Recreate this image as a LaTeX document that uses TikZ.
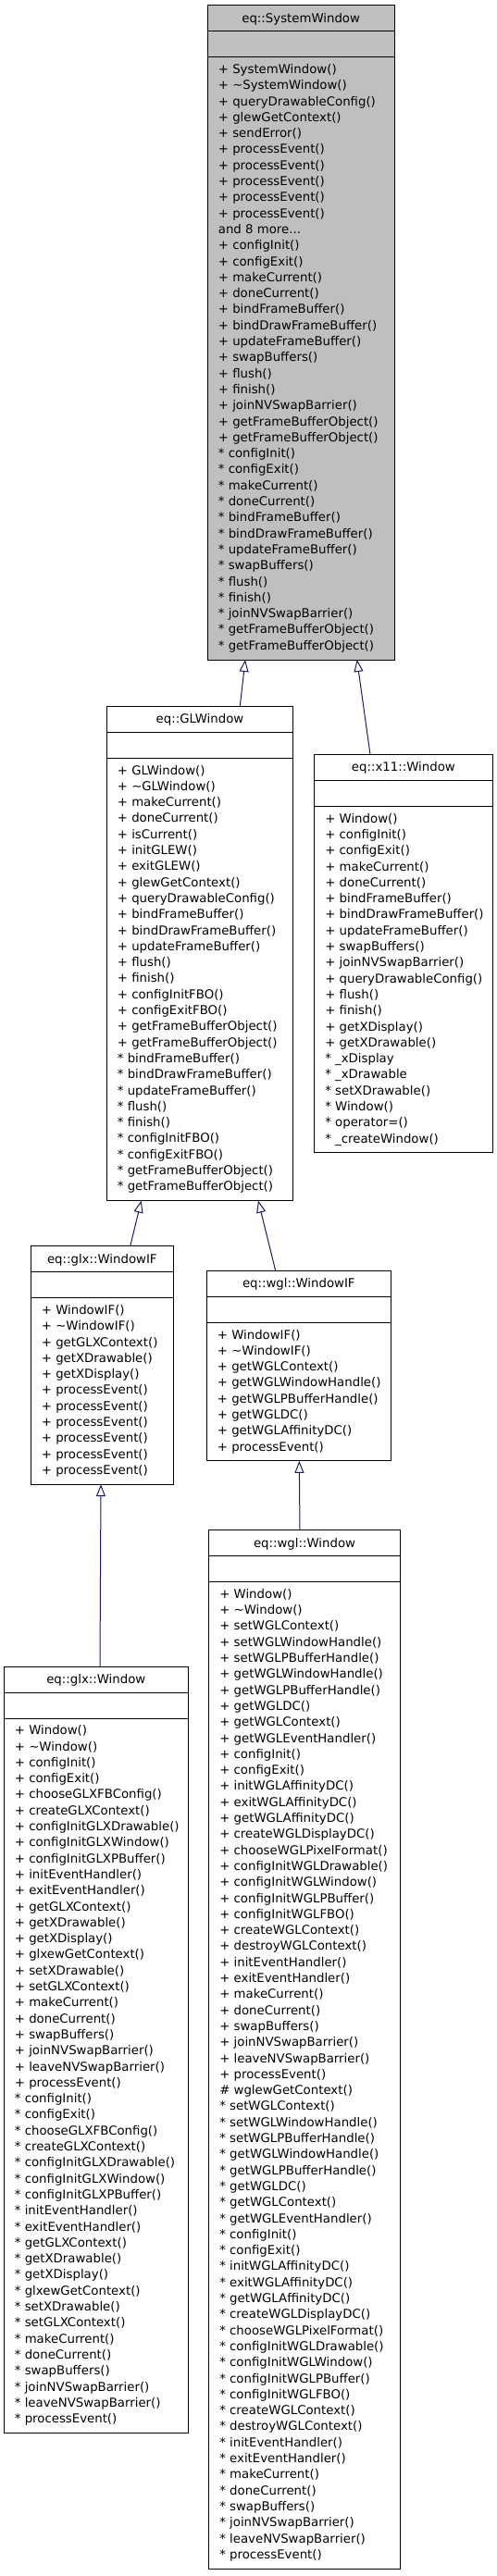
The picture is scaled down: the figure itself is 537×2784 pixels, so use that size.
\documentclass[tikz,border=0pt]{standalone}
\usepackage{fontspec}
\setmainfont{DejaVu Sans}
\usetikzlibrary{arrows.meta}
\definecolor{edgecol}{HTML}{191970}
\definecolor{greyfill}{HTML}{BFBFBF}
\newcommand\umlclass[8]{%
  \pgfmathsetmacro\boxh{67.2+#5*17.3}%
  \node[classbox, fill=#6, minimum width=#4pt, minimum height=\boxh pt, anchor=north west] (#1) at (#2,#3) {};
  \draw[sepline] ([yshift=-28pt]#1.north west) -- ([yshift=-28pt]#1.north east);
  \draw[sepline] ([yshift=-56pt]#1.north west) -- ([yshift=-56pt]#1.north east);
  \node[titletext, anchor=base] (#1-title) at ([yshift=-18.5pt]#1.north) {#7};
  \node[membertext, anchor=north west] (#1-members) at ([xshift=11.4pt,yshift=-61.4pt]#1.north west) {\strut #8};
}
\begin{document}
\begin{tikzpicture}[x=1pt,y=-1pt,
  classbox/.style={draw=black, line width=1pt, inner sep=0pt, outer sep=0pt},
  sepline/.style={draw=black, line width=1pt},
  titletext/.style={inner sep=0pt, font=\fontsize{13.3}{17.3}\selectfont},
  membertext/.style={inner sep=0pt, align=left, font=\fontsize{13.3}{17.3}\selectfont},
  inh/.style={draw=edgecol, line width=1pt, -{Triangle[open, length=13pt, width=10pt]}}]

\fill[white] (0,0) rectangle (537,2784);
\useasboundingbox (0,0) rectangle (537,2784);

\umlclass{sys}{224.3}{5.7}{201.7}{37}{greyfill}{eq::SystemWindow}{%
+ SystemWindow()\\
+ \textasciitilde SystemWindow()\\
+ queryDrawableConfig()\\
+ glewGetContext()\\
+ sendError()\\
+ processEvent()\\
+ processEvent()\\
+ processEvent()\\
+ processEvent()\\
+ processEvent()\\
and 8 more...\\
+ configInit()\\
+ configExit()\\
+ makeCurrent()\\
+ doneCurrent()\\
+ bindFrameBuffer()\\
+ bindDrawFrameBuffer()\\
+ updateFrameBuffer()\\
+ swapBuffers()\\
+ flush()\\
+ finish()\\
+ joinNVSwapBarrier()\\
+ getFrameBufferObject()\\
+ getFrameBufferObject()\\
{*} configInit()\\
{*} configExit()\\
{*} makeCurrent()\\
{*} doneCurrent()\\
{*} bindFrameBuffer()\\
{*} bindDrawFrameBuffer()\\
{*} updateFrameBuffer()\\
{*} swapBuffers()\\
{*} flush()\\
{*} finish()\\
{*} joinNVSwapBarrier()\\
{*} getFrameBufferObject()\\
{*} getFrameBufferObject()}

\umlclass{glwin}{115.3}{763.3}{201.4}{27}{white}{eq::GLWindow}{%
+ GLWindow()\\
+ \textasciitilde GLWindow()\\
+ makeCurrent()\\
+ doneCurrent()\\
+ isCurrent()\\
+ initGLEW()\\
+ exitGLEW()\\
+ glewGetContext()\\
+ queryDrawableConfig()\\
+ bindFrameBuffer()\\
+ bindDrawFrameBuffer()\\
+ updateFrameBuffer()\\
+ flush()\\
+ finish()\\
+ configInitFBO()\\
+ configExitFBO()\\
+ getFrameBufferObject()\\
+ getFrameBufferObject()\\
{*} bindFrameBuffer()\\
{*} bindDrawFrameBuffer()\\
{*} updateFrameBuffer()\\
{*} flush()\\
{*} finish()\\
{*} configInitFBO()\\
{*} configExitFBO()\\
{*} getFrameBufferObject()\\
{*} getFrameBufferObject()}

\umlclass{x11}{339.7}{815.4}{192.3}{21}{white}{eq::x11::Window}{%
+ Window()\\
+ configInit()\\
+ configExit()\\
+ makeCurrent()\\
+ doneCurrent()\\
+ bindFrameBuffer()\\
+ bindDrawFrameBuffer()\\
+ updateFrameBuffer()\\
+ swapBuffers()\\
+ joinNVSwapBarrier()\\
+ queryDrawableConfig()\\
+ flush()\\
+ finish()\\
+ getXDisplay()\\
+ getXDrawable()\\
{*} \_xDisplay\\
{*} \_xDrawable\\
{*} setXDrawable()\\
{*} Window()\\
{*} operator=()\\
{*} \_createWindow()}

\umlclass{glxif}{33.3}{1346.7}{154}{11}{white}{eq::glx::WindowIF}{%
+ WindowIF()\\
+ \textasciitilde WindowIF()\\
+ getGLXContext()\\
+ getXDrawable()\\
+ getXDisplay()\\
+ processEvent()\\
+ processEvent()\\
+ processEvent()\\
+ processEvent()\\
+ processEvent()\\
+ processEvent()}

\umlclass{wglif}{223.3}{1373.3}{199}{8}{white}{eq::wgl::WindowIF}{%
+ WindowIF()\\
+ \textasciitilde WindowIF()\\
+ getWGLContext()\\
+ getWGLWindowHandle()\\
+ getWGLPBufferHandle()\\
+ getWGLDC()\\
+ getWGLAffinityDC()\\
+ processEvent()}

\umlclass{glxwin}{4.3}{1801}{199}{44}{white}{eq::glx::Window}{%
+ Window()\\
+ \textasciitilde Window()\\
+ configInit()\\
+ configExit()\\
+ chooseGLXFBConfig()\\
+ createGLXContext()\\
+ configInitGLXDrawable()\\
+ configInitGLXWindow()\\
+ configInitGLXPBuffer()\\
+ initEventHandler()\\
+ exitEventHandler()\\
+ getGLXContext()\\
+ getXDrawable()\\
+ getXDisplay()\\
+ glxewGetContext()\\
+ setXDrawable()\\
+ setGLXContext()\\
+ makeCurrent()\\
+ doneCurrent()\\
+ swapBuffers()\\
+ joinNVSwapBarrier()\\
+ leaveNVSwapBarrier()\\
+ processEvent()\\
{*} configInit()\\
{*} configExit()\\
{*} chooseGLXFBConfig()\\
{*} createGLXContext()\\
{*} configInitGLXDrawable()\\
{*} configInitGLXWindow()\\
{*} configInitGLXPBuffer()\\
{*} initEventHandler()\\
{*} exitEventHandler()\\
{*} getGLXContext()\\
{*} getXDrawable()\\
{*} getXDisplay()\\
{*} glxewGetContext()\\
{*} setXDrawable()\\
{*} setGLXContext()\\
{*} makeCurrent()\\
{*} doneCurrent()\\
{*} swapBuffers()\\
{*} joinNVSwapBarrier()\\
{*} leaveNVSwapBarrier()\\
{*} processEvent()}

\umlclass{wglwin}{225.7}{1653.6}{206.6}{61}{white}{eq::wgl::Window}{%
+ Window()\\
+ \textasciitilde Window()\\
+ setWGLContext()\\
+ setWGLWindowHandle()\\
+ setWGLPBufferHandle()\\
+ getWGLWindowHandle()\\
+ getWGLPBufferHandle()\\
+ getWGLDC()\\
+ getWGLContext()\\
+ getWGLEventHandler()\\
+ configInit()\\
+ configExit()\\
+ initWGLAffinityDC()\\
+ exitWGLAffinityDC()\\
+ getWGLAffinityDC()\\
+ createWGLDisplayDC()\\
+ chooseWGLPixelFormat()\\
+ configInitWGLDrawable()\\
+ configInitWGLWindow()\\
+ configInitWGLPBuffer()\\
+ configInitWGLFBO()\\
+ createWGLContext()\\
+ destroyWGLContext()\\
+ initEventHandler()\\
+ exitEventHandler()\\
+ makeCurrent()\\
+ doneCurrent()\\
+ swapBuffers()\\
+ joinNVSwapBarrier()\\
+ leaveNVSwapBarrier()\\
+ processEvent()\\
\# wglewGetContext()\\
{*} setWGLContext()\\
{*} setWGLWindowHandle()\\
{*} setWGLPBufferHandle()\\
{*} getWGLWindowHandle()\\
{*} getWGLPBufferHandle()\\
{*} getWGLDC()\\
{*} getWGLContext()\\
{*} getWGLEventHandler()\\
{*} configInit()\\
{*} configExit()\\
{*} initWGLAffinityDC()\\
{*} exitWGLAffinityDC()\\
{*} getWGLAffinityDC()\\
{*} createWGLDisplayDC()\\
{*} chooseWGLPixelFormat()\\
{*} configInitWGLDrawable()\\
{*} configInitWGLWindow()\\
{*} configInitWGLPBuffer()\\
{*} configInitWGLFBO()\\
{*} createWGLContext()\\
{*} destroyWGLContext()\\
{*} initEventHandler()\\
{*} exitEventHandler()\\
{*} makeCurrent()\\
{*} doneCurrent()\\
{*} swapBuffers()\\
{*} joinNVSwapBarrier()\\
{*} leaveNVSwapBarrier()\\
{*} processEvent()}

% inheritance connectors (child -> parent)
\draw[inh] ([xshift=144pt]glwin.north west) -- ([xshift=40.7pt]sys.south west);
\draw[inh] ([xshift=60.3pt]x11.north west) -- ([xshift=161.4pt]sys.south west);
\draw[inh] ([xshift=107.4pt]glxif.north west) -- ([xshift=37.4pt]glwin.south west);
\draw[inh] ([xshift=74.4pt]wglif.north west) -- ([xshift=163.7pt]glwin.south west);
\draw[inh] ([xshift=103.7pt]glxwin.north west) -- ([xshift=75.7pt]glxif.south west);
\draw[inh] ([xshift=98.3pt]wglwin.north west) -- ([xshift=100pt]wglif.south west);
\end{tikzpicture}
\end{document}
